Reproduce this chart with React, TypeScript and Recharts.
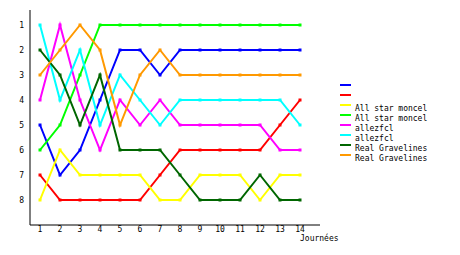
import { LineChart, Line, XAxis, YAxis } from "recharts";

const journees = [1, 2, 3, 4, 5, 6, 7, 8, 9, 10, 11, 12, 13, 14];
const rankTicks = [1, 2, 3, 4, 5, 6, 7, 8];

const blueRanks = [5, 7, 6, 4, 2, 2, 3, 2, 2, 2, 2, 2, 2, 2];
const redRanks = [7, 8, 8, 8, 8, 8, 7, 6, 6, 6, 6, 6, 5, 4];
const allStarA = [8, 6, 7, 7, 7, 7, 8, 8, 7, 7, 7, 8, 7, 7];
const allStarB = [6, 5, 3, 1, 1, 1, 1, 1, 1, 1, 1, 1, 1, 1];
const allezA = [4, 1, 4, 6, 4, 5, 4, 5, 5, 5, 5, 5, 6, 6];
const allezB = [1, 4, 2, 5, 3, 4, 5, 4, 4, 4, 4, 4, 4, 5];
const realA = [2, 3, 5, 3, 6, 6, 6, 7, 8, 8, 8, 7, 8, 8];
const realB = [3, 2, 1, 2, 5, 3, 2, 3, 3, 3, 3, 3, 3, 3];

const series = [
  { key: "s1", name: "", color: "#0000ff", values: blueRanks },
  { key: "s2", name: "", color: "#ff0000", values: redRanks },
  { key: "s3", name: "All star moncel", color: "#ffff00", values: allStarA },
  { key: "s4", name: "All star moncel", color: "#00ff00", values: allStarB },
  { key: "s5", name: "allezfcl", color: "#ff00ff", values: allezA },
  { key: "s6", name: "allezfcl", color: "#00ffff", values: allezB },
  { key: "s7", name: "Real Gravelines", color: "#006600", values: realA },
  { key: "s8", name: "Real Gravelines", color: "#ff9900", values: realB },
];

const data = journees.map((j, i) => {
  const row: Record<string, number> = { j };
  series.forEach((s) => (row[s.key] = s.values[i]));
  return row;
});

const FONT = "'DejaVu Sans Mono', monospace";
const tickStyle = { fill: "#000", fontSize: 8, fontFamily: FONT };

const squareDot = (color: string) => (props: any) => {
  const { cx, cy, index } = props;
  if (cx == null || cy == null) return <g key={index} />;
  return <rect key={index} x={cx - 1.5} y={cy - 1.5} width={3} height={3} fill={color} />;
};

export default function App() {
  return (
    <div style={{ position: "absolute", left: 0, top: 0, width: 460, height: 255, background: "#fff" }}>
      <LineChart width={460} height={255} data={data} margin={{ top: 10, right: 140, bottom: 0, left: 0 }}>
        <XAxis
          dataKey="j"
          type="number"
          domain={[0.5, 15]}
          ticks={journees}
          tickLine={false}
          tickSize={0}
          tickMargin={1}
          height={30}
          axisLine={{ stroke: "#000" }}
          tick={tickStyle}
          allowDataOverflow
        />
        <YAxis
          type="number"
          reversed
          domain={[0.4, 9]}
          ticks={rankTicks}
          tickLine={false}
          tickSize={0}
          tickMargin={6}
          width={30}
          axisLine={{ stroke: "#000" }}
          tick={tickStyle}
          allowDataOverflow
        />
        {series.map((s) => (
          <Line
            key={s.key}
            dataKey={s.key}
            name={s.name}
            type="linear"
            stroke={s.color}
            strokeWidth={2}
            dot={squareDot(s.color)}
            activeDot={false}
            isAnimationActive={false}
          />
        ))}
      </LineChart>
      <div style={{ position: "absolute", left: 300, top: 234, fontFamily: FONT, fontSize: 8, lineHeight: "10px" }}>
        Journées
      </div>
      <div style={{ position: "absolute", left: 340, top: 80 }}>
        {series.map((s) => (
          <div key={s.key} style={{ position: "relative", height: 10 }}>
            <div style={{ position: "absolute", left: 0, top: 4, width: 11, height: 2, background: s.color }} />
            <div
              style={{
                position: "absolute",
                left: 15,
                top: 4,
                fontFamily: FONT,
                fontSize: 8,
                lineHeight: "10px",
                whiteSpace: "nowrap",
              }}
            >
              {s.name}
            </div>
          </div>
        ))}
      </div>
    </div>
  );
}
